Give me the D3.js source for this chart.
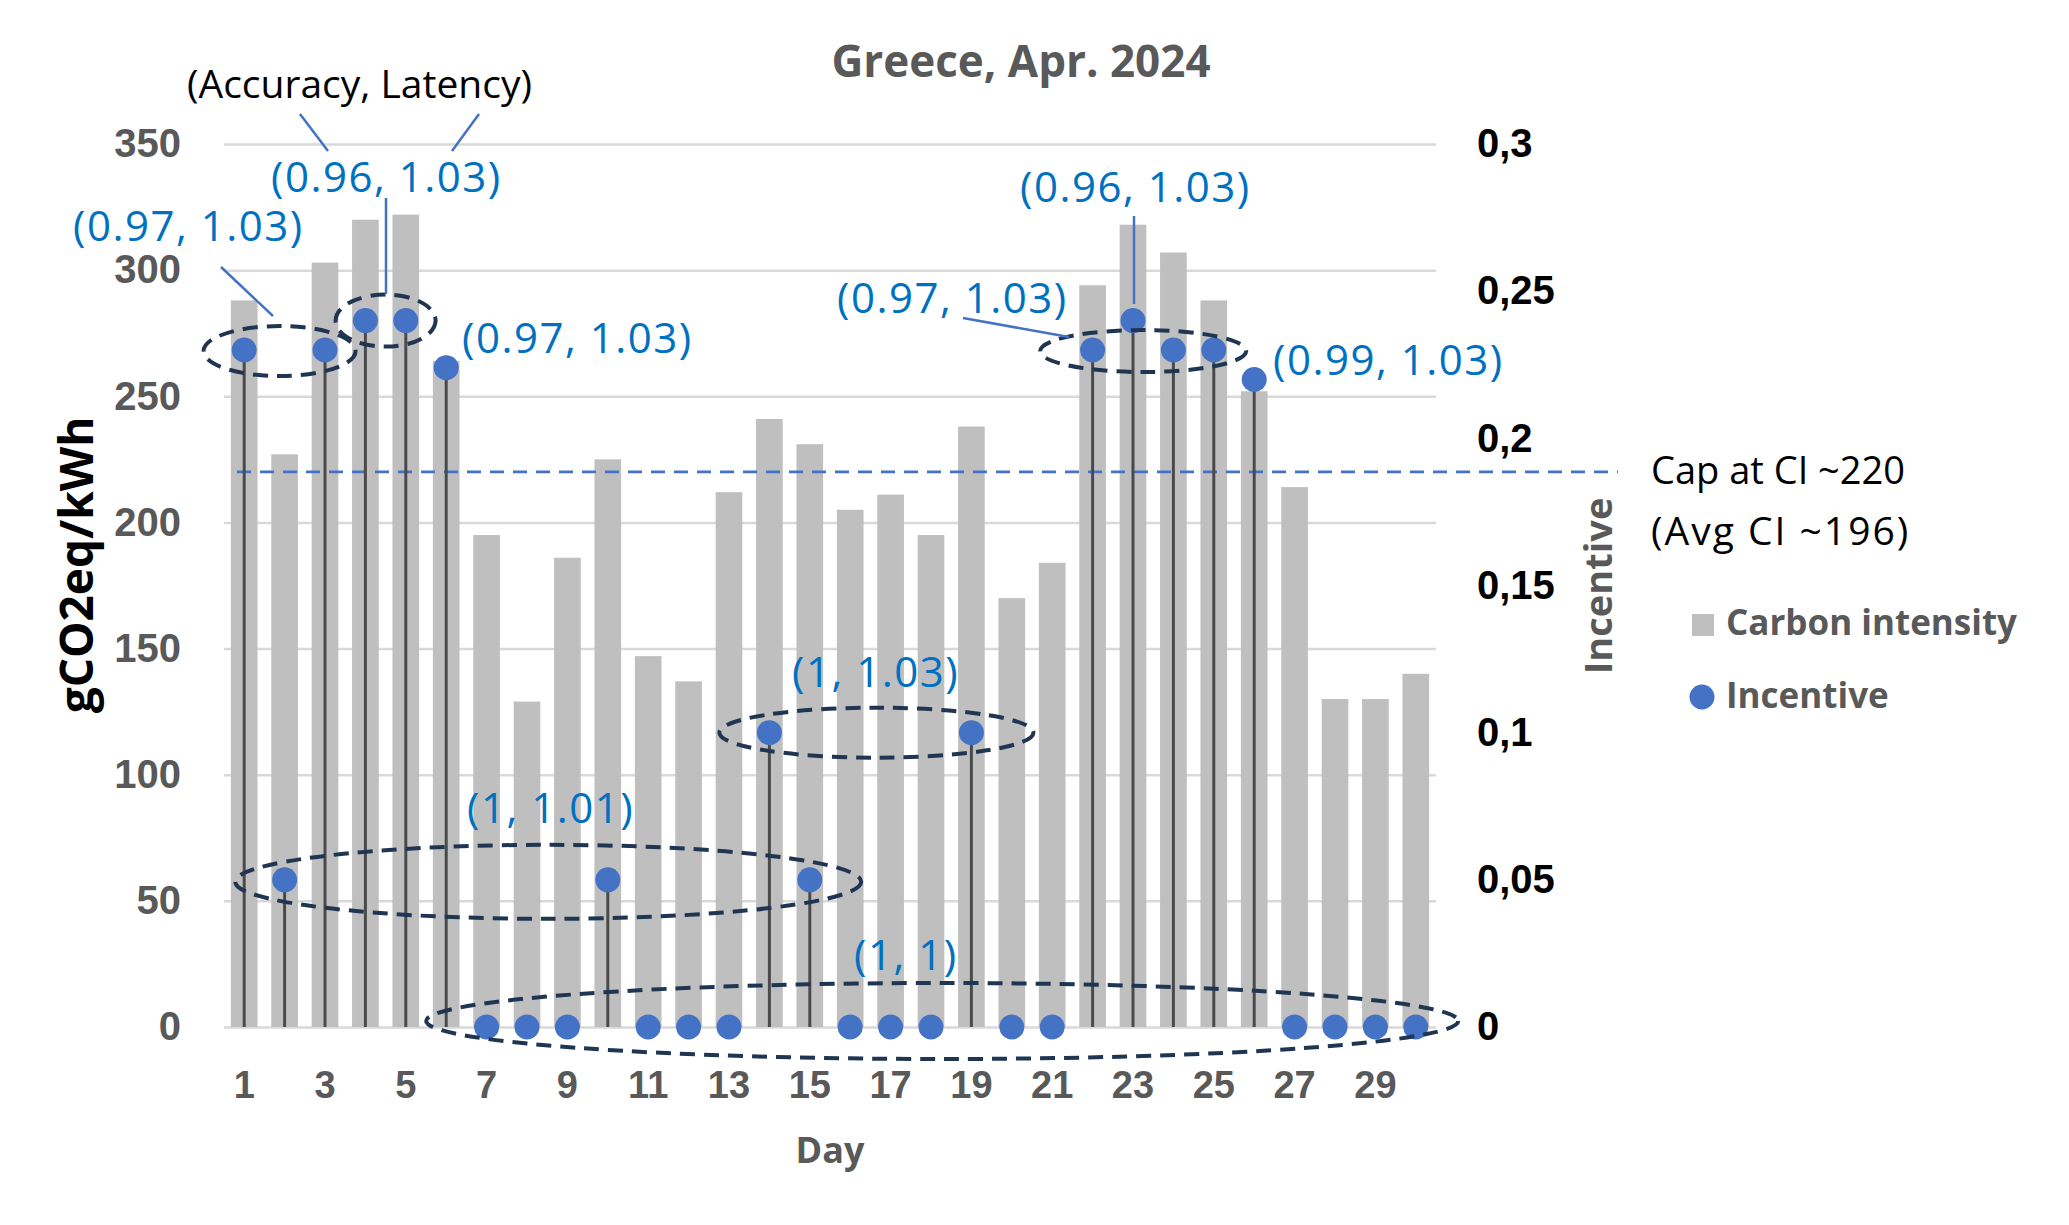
<!DOCTYPE html>
<html>
<head>
<meta charset="utf-8">
<script src="https://cdn.jsdelivr.net/npm/d3@7"></script>
<style>
  body { margin: 0; background: #fff; }
  svg { display: block; font-family: "Open Sans", "DejaVu Sans", sans-serif; }
</style>
</head>
<body>
<svg id="chart"></svg>
<script>
// day of month (April 2024)
const days = [1, 2, 3, 4, 5, 6, 7, 8, 9, 10, 11, 12, 13, 14, 15, 16, 17, 18, 19, 20, 21, 22, 23, 24, 25, 26, 27, 28, 29, 30];
// carbon intensity, gCO2eq/kWh
const carbonIntensity = [288, 227, 303, 320, 322, 264, 195, 129, 186, 225, 147, 137, 212, 241, 231, 205, 211, 195, 238, 170, 184, 294, 318, 307, 288, 252, 214, 130, 130, 140];
// incentive (right axis)
const incentive = [0.23, 0.05, 0.23, 0.24, 0.24, 0.224, 0, 0, 0, 0.05, 0, 0, 0, 0.1, 0.05, 0, 0, 0, 0.1, 0, 0, 0.23, 0.24, 0.23, 0.23, 0.22, 0, 0, 0, 0];

const leftTicks = [0, 50, 100, 150, 200, 250, 300, 350];
const rightTicks = [0, 0.05, 0.1, 0.15, 0.2, 0.25, 0.3];
const dayTicks = [1, 3, 5, 7, 9, 11, 13, 15, 17, 19, 21, 23, 25, 27, 29];
const capValue = 220;

// (accuracy, latency) groups circled on the chart
const groups = [
  { from: 1, to: 3, value: 0.23, dx: -5, dy: 1, rx: 76, ry: 25 },
  { from: 4, to: 5, value: 0.24, dx: 0, dy: 0, rx: 50, ry: 26 },
  { from: 22, to: 25, value: 0.23, dx: -10, dy: 1, rx: 103, ry: 21 },
  { from: 14, to: 19, value: 0.1, dx: 6, dy: 0, rx: 157, ry: 25 },
  { from: 2, to: 15, value: 0.05, dx: 1, dy: 2, rx: 313, ry: 37 },
  { from: 7, to: 30, value: 0, dx: -9, dy: -6, rx: 516, ry: 38 }
];
const labels = [
  { text: '(0.97, 1.03)', x: 73, y: 241 },
  { text: '(0.96, 1.03)', x: 271, y: 192 },
  { text: '(0.97, 1.03)', x: 462, y: 353 },
  { text: '(0.96, 1.03)', x: 1020, y: 202 },
  { text: '(0.97, 1.03)', x: 837, y: 313 },
  { text: '(0.99, 1.03)', x: 1273, y: 375 },
  { text: '(1, 1.03)', x: 792, y: 687 },
  { text: '(1, 1.01)', x: 467, y: 823 },
  { text: '(1, 1)', x: 854, y: 970 }
];
const leaders = [
  [300, 114, 328, 151], [479, 114, 452, 151],
  [386, 198, 386, 294], [221, 267, 273, 316],
  [1134, 216, 1134, 304], [963, 318, 1069, 337]
];

const data = days.map((d, i) => ({ day: d, ci: carbonIntensity[i], inc: incentive[i] }));

// set the dimensions and margins of the graph
const W = 2069, H = 1225;
const margin = { top: 144, right: 633, bottom: 198, left: 224 };
const width = W - margin.left - margin.right;
const height = H - margin.top - margin.bottom;

const svg = d3.select('#chart').attr('width', W).attr('height', H);
const g = svg.append('g').attr('transform', `translate(${margin.left},${margin.top})`);

const x = d3.scaleBand().domain(days).range([0, width]).paddingInner(0.34).paddingOuter(0.17);
const yL = d3.scaleLinear().domain([0, 350]).range([height, 0]);
const yR = d3.scaleLinear().domain([0, 0.3]).range([height, 0]);
const cx = d => x(d) + x.bandwidth() / 2;

// gridlines
g.append('g')
  .call(d3.axisLeft(yL).tickValues(leftTicks).tickSize(-width).tickFormat(''))
  .call(s => s.select('.domain').remove())
  .call(s => s.selectAll('line').attr('stroke', '#d9d9d9').attr('stroke-width', 2.5));

// bars
g.selectAll('.bar').data(data).enter().append('rect')
  .attr('class', 'bar')
  .attr('x', d => x(d.day))
  .attr('width', x.bandwidth())
  .attr('y', d => yL(d.ci))
  .attr('height', d => yL(0) - yL(d.ci))
  .attr('fill', '#bfbfbf');

// cap line
g.append('line')
  .attr('x1', 13).attr('x2', 1394)
  .attr('y1', yL(capValue)).attr('y2', yL(capValue))
  .attr('stroke', '#4472c4').attr('stroke-width', 2.7)
  .attr('stroke-dasharray', '14,9');

// drop lines + points
g.selectAll('.stem').data(data).enter().append('line')
  .attr('class', 'stem')
  .attr('x1', d => cx(d.day)).attr('x2', d => cx(d.day))
  .attr('y1', d => yR(d.inc)).attr('y2', yR(0))
  .attr('stroke', '#4a4a4a').attr('stroke-width', 3);

g.selectAll('.pt').data(data).enter().append('circle')
  .attr('class', 'pt')
  .attr('cx', d => cx(d.day))
  .attr('cy', d => yR(d.inc))
  .attr('r', 12.5)
  .attr('fill', '#4472c4');

// left axis
g.append('g')
  .call(d3.axisLeft(yL).tickValues(leftTicks).tickSize(0).tickPadding(43))
  .call(s => s.select('.domain').remove())
  .call(s => s.selectAll('text').attr('font-size', 40).attr('font-weight', 'bold')
    .attr('fill', '#595959').attr('font-family', null));

// right axis
g.append('g')
  .attr('transform', `translate(${width},0)`)
  .call(d3.axisRight(yR).tickValues(rightTicks).tickSize(0).tickPadding(41)
    .tickFormat(d => String(d).replace('.', ',')))
  .call(s => s.select('.domain').remove())
  .call(s => s.selectAll('text').attr('font-size', 40).attr('font-weight', 'bold')
    .attr('fill', '#000').attr('font-family', null));

// bottom axis
g.append('g')
  .attr('transform', `translate(0,${height})`)
  .call(d3.axisBottom(x).tickValues(dayTicks).tickSize(0).tickPadding(44))
  .call(s => s.select('.domain').remove())
  .call(s => s.selectAll('text').attr('font-size', 38).attr('font-weight', 'bold')
    .attr('fill', '#595959').attr('font-family', null));

// group ellipses
g.selectAll('.grp').data(groups).enter().append('ellipse')
  .attr('class', 'grp')
  .attr('cx', d => (cx(d.from) + cx(d.to)) / 2 + d.dx)
  .attr('cy', d => yR(d.value) + d.dy)
  .attr('rx', d => d.rx).attr('ry', d => d.ry)
  .attr('fill', 'none')
  .attr('stroke', '#1f3552').attr('stroke-width', 4)
  .attr('stroke-dasharray', '15,9');

// annotations (svg coords)
svg.selectAll('.leader').data(leaders).enter().append('line')
  .attr('x1', d => d[0]).attr('y1', d => d[1]).attr('x2', d => d[2]).attr('y2', d => d[3])
  .attr('stroke', '#4472c4').attr('stroke-width', 2.5);

svg.selectAll('.lbl').data(labels).enter().append('text')
  .attr('x', d => d.x).attr('y', d => d.y)
  .attr('font-size', 42).attr('letter-spacing', 1.5)
  .attr('fill', '#0070c0')
  .text(d => d.text);

svg.append('text').attr('x', 187).attr('y', 98)
  .attr('font-size', 39).attr('fill', '#000').text('(Accuracy, Latency)');

// title
svg.append('text').attr('x', 1021).attr('y', 77).attr('text-anchor', 'middle')
  .attr('font-size', 44).attr('font-weight', 'bold').attr('fill', '#595959')
  .text('Greece, Apr. 2024');

// axis titles
svg.append('text').attr('transform', 'translate(93,565) rotate(-90)')
  .attr('text-anchor', 'middle').attr('font-size', 46).attr('font-weight', 'bold')
  .attr('fill', '#000').text('gCO2eq/kWh');
svg.append('text').attr('transform', 'translate(1612,586) rotate(-90)')
  .attr('text-anchor', 'middle').attr('font-size', 38).attr('font-weight', 'bold')
  .attr('fill', '#595959').text('Incentive');
svg.append('text').attr('x', 830).attr('y', 1163).attr('text-anchor', 'middle')
  .attr('font-size', 36).attr('font-weight', 'bold').attr('fill', '#595959').text('Day');

// cap note
svg.append('text').attr('x', 1651).attr('y', 484).attr('font-size', 38).attr('fill', '#000')
  .text('Cap at CI ~220');
svg.append('text').attr('x', 1651).attr('y', 545).attr('font-size', 39).attr('letter-spacing', 2)
  .attr('fill', '#000').text('(Avg CI ~196)');

// legend
const legend = svg.append('g');
legend.append('rect').attr('x', 1692).attr('y', 614).attr('width', 22).attr('height', 22).attr('fill', '#bfbfbf');
legend.append('text').attr('x', 1726).attr('y', 635).attr('font-size', 35).attr('font-weight', 'bold')
  .attr('fill', '#595959').text('Carbon intensity');
legend.append('circle').attr('cx', 1702).attr('cy', 697).attr('r', 12.5).attr('fill', '#4472c4');
legend.append('text').attr('x', 1726).attr('y', 708).attr('font-size', 35).attr('font-weight', 'bold')
  .attr('fill', '#595959').text('Incentive');
</script>
</body>
</html>
